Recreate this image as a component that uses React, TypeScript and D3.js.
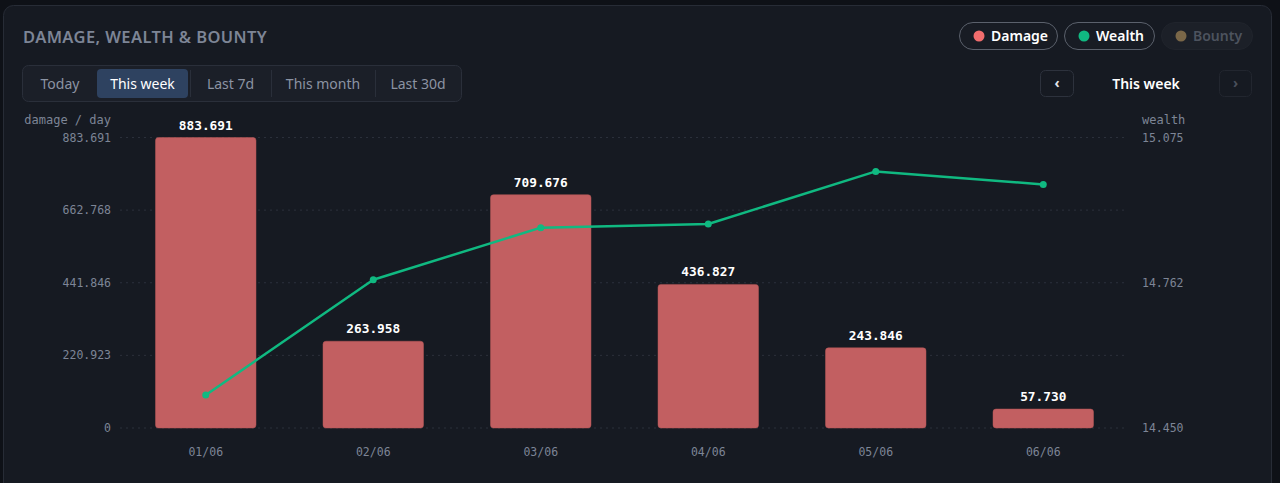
import React from 'react';
import * as d3 from 'd3';

const days = ['01/06', '02/06', '03/06', '04/06', '05/06', '06/06'];
const damage = [883.691, 263.958, 709.676, 436.827, 243.846, 57.73];
const wealth = [14.521, 14.769, 14.881, 14.889, 15.002, 14.974];
const damageTicks = [0, 220.923, 441.846, 662.768, 883.691];
const wealthTicks = [14.45, 14.762, 15.075];
const tabs = ['Today', 'This week', 'Last 7d', 'This month', 'Last 30d'];
const legend = [
  { name: 'Damage', color: '#f26d6d', active: true },
  { name: 'Wealth', color: '#10b981', active: true },
  { name: 'Bounty', color: '#7a6748', active: false },
];

const W = 1280;
const H = 483;
const UI = '"Noto Sans", "Open Sans", sans-serif';
const MONO = '"DejaVu Sans Mono", "Liberation Mono", monospace';

const App: React.FC = () => {
  const x = d3.scaleBand<string>()
    .domain(days)
    .range([122, 1127])
    .paddingInner(0.4)
    .paddingOuter(0.2);

  const yL = d3.scaleLinear().domain([0, 883.691]).range([428, 137.5]);
  const yR = d3.scaleLinear().domain([14.45, 15.075]).range([428, 137.5]);

  const fmt = d3.format('.3f');
  const tickFmt = (v: number) => (v === 0 ? '0' : fmt(v));

  const line = d3.line<number>()
    .x((_, i) => (x(days[i]) as number) + x.bandwidth() / 2)
    .y((d) => yR(d));

  const tabEdges = [23, 97, 190, 271, 375, 461];

  const pills = [
    { x0: 959, x1: 1057 },
    { x0: 1064, x1: 1154 },
    { x0: 1161, x1: 1252 },
  ];

  return (
    <svg width={W} height={H} style={{ position: 'absolute', left: 0, top: 0, display: 'block' }}>
      <rect x={0} y={0} width={W} height={H} fill="#0e1117" />
      <rect x={3.5} y={5.5} width={1268} height={520} rx={10} fill="#161a22" stroke="#272c36" />

      <text x={23} y={43} fill="#7d8596" fontFamily={UI} fontSize={16.5} fontWeight={600} letterSpacing={0.4}>
        DAMAGE, WEALTH &amp; BOUNTY
      </text>

      {/* range tabs */}
      <rect x={22.5} y={65.5} width={439} height={36} rx={6} fill="#1b1f28" stroke="#2a2f3a" />
      {tabs.map((t, i) => {
        const a = tabEdges[i];
        const b = tabEdges[i + 1];
        const active = t === 'This week';
        return (
          <g key={t}>
            {active && <rect x={a} y={69} width={b - a - 2} height={29} rx={4} fill="#2e4260" />}
            {i > 1 && <line x1={a + 0.5} x2={a + 0.5} y1={70} y2={97} stroke="#2a2f3a" />}
            <text x={(a + b) / 2 - (active ? 1 : 0)} y={84} dy="0.35em" textAnchor="middle"
              fill={active ? '#ffffff' : '#8b93a3'} fontFamily={UI} fontSize={14}>
              {t}
            </text>
          </g>
        );
      })}

      {/* legend pills */}
      {legend.map((l, i) => {
        const p = pills[i];
        return (
          <g key={l.name}>
            <rect x={p.x0 + 0.5} y={22.5} width={p.x1 - p.x0} height={27} rx={13.5}
              fill={l.active ? '#181c24' : '#1c2028'} stroke={l.active ? '#5b616c' : '#20242c'} />
            <circle cx={p.x0 + 20} cy={36} r={5.5} fill={l.color} />
            <text x={p.x0 + 32} y={36} dy="0.35em" fill={l.active ? '#ffffff' : '#4d535e'}
              fontFamily={UI} fontSize={14} fontWeight={600}>
              {l.name}
            </text>
          </g>
        );
      })}

      {/* period nav */}
      <rect x={1040.5} y={70.5} width={33} height={26} rx={5} fill="#161a22" stroke="#2d323d" />
      <text x={1057} y={83.5} dy="0.35em" textAnchor="middle" fill="#e5e7eb" fontFamily={UI} fontSize={14} fontWeight={700}>‹</text>
      <text x={1146} y={84} dy="0.35em" textAnchor="middle" fill="#ffffff" fontFamily={UI} fontSize={14} fontWeight={600}>This week</text>
      <rect x={1219.5} y={70.5} width={32} height={26} rx={5} fill="#161a22" stroke="#22262f" />
      <text x={1235.5} y={83.5} dy="0.35em" textAnchor="middle" fill="#4a505b" fontFamily={UI} fontSize={14} fontWeight={700}>›</text>

      {/* axis titles */}
      <text x={111} y={120} dy="0.35em" textAnchor="end" fill="#7d8596" fontFamily={MONO} fontSize={12}>damage / day</text>
      <text x={1142} y={120} dy="0.35em" fill="#7d8596" fontFamily={MONO} fontSize={12}>wealth</text>

      {/* grid + left ticks */}
      {damageTicks.map((t) => (
        <g key={t}>
          <line x1={120} x2={1125} y1={yL(t)} y2={yL(t)} stroke="#2b303b" strokeDasharray="2,4" />
          <text x={111} y={yL(t)} dy="0.35em" textAnchor="end" fill="#7d8596" fontFamily={MONO} fontSize={11.5}>
            {tickFmt(t)}
          </text>
        </g>
      ))}
      {wealthTicks.map((t) => (
        <text key={t} x={1142} y={yR(t)} dy="0.35em" fill="#7d8596" fontFamily={MONO} fontSize={11.5}>
          {fmt(t)}
        </text>
      ))}

      {/* bars */}
      {damage.map((d, i) => (
        <rect key={days[i]} x={x(days[i])} y={yL(d)} width={x.bandwidth()} height={yL(0) - yL(d)}
          rx={3} fill="#c25f61" stroke="#b55657" strokeWidth={0.5} />
      ))}

      {/* wealth line */}
      <path d={line(wealth) ?? ''} fill="none" stroke="#10b981" strokeWidth={2.5} strokeLinejoin="round" />
      {wealth.map((w, i) => (
        <circle key={days[i]} cx={(x(days[i]) as number) + x.bandwidth() / 2} cy={yR(w)} r={3.5} fill="#10b981" />
      ))}

      {/* bar value labels */}
      {damage.map((d, i) => (
        <text key={days[i]} x={(x(days[i]) as number) + x.bandwidth() / 2} y={yL(d) - 8}
          textAnchor="middle" fill="#ffffff" stroke="#161a22" strokeWidth={3} paintOrder="stroke"
          fontFamily={MONO} fontSize={12.8} fontWeight={700}>
          {fmt(d)}
        </text>
      ))}

      {/* x labels */}
      {days.map((d) => (
        <text key={d} x={(x(d) as number) + x.bandwidth() / 2} y={452} dy="0.35em" textAnchor="middle"
          fill="#7d8596" fontFamily={MONO} fontSize={11.5}>
          {d}
        </text>
      ))}
    </svg>
  );
};

export default App;
